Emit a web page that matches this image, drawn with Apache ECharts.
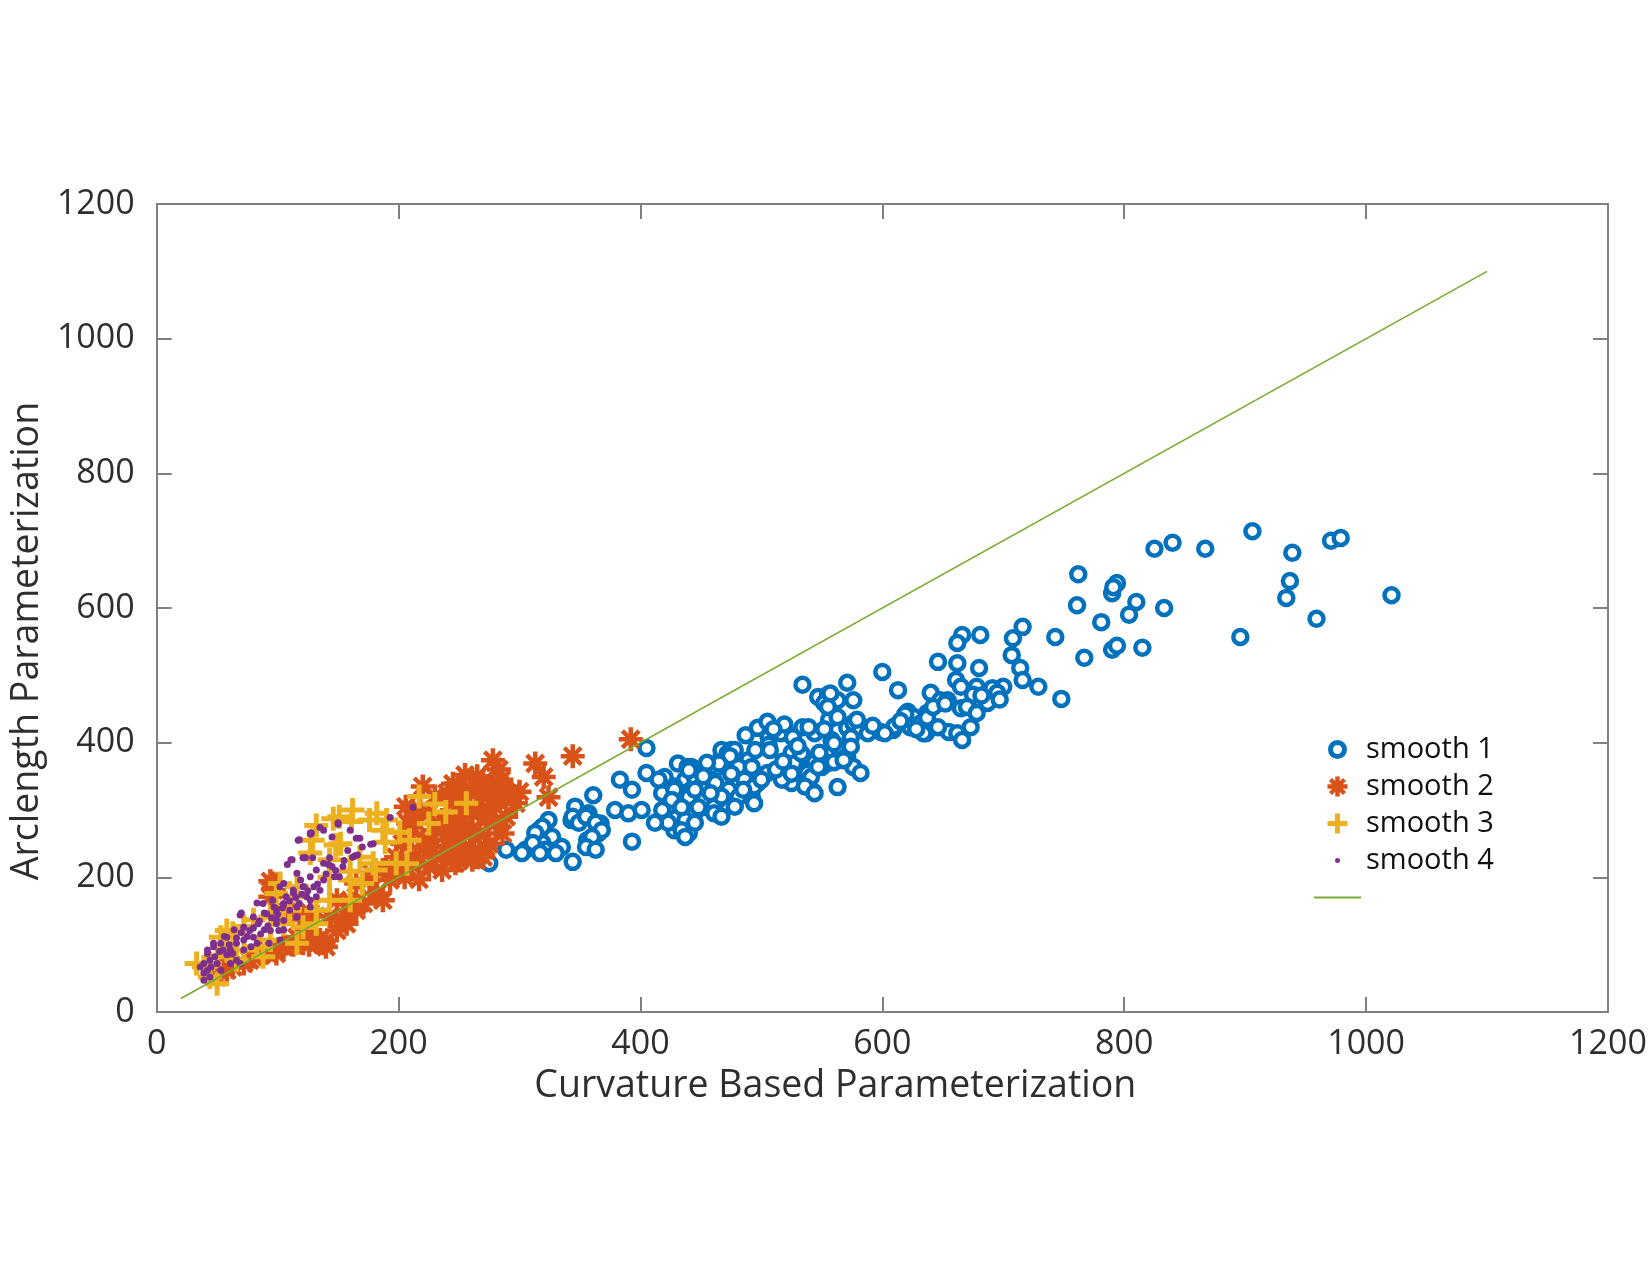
<!DOCTYPE html>
<html>
<head>
<meta charset="utf-8">
<title>Arclength vs Curvature Based Parameterization</title>
<script src="https://cdn.jsdelivr.net/npm/echarts@6/dist/echarts.min.js"></script>
<style>
  html, body { margin: 0; padding: 0; background: #fff; }
  #main { width: 1650px; height: 1275px; }
</style>
</head>
<body>
<div id="main"></div>
<script>
// values: [curvature based, arclength]
var smooth1 = [
  [762, 650], [761, 604], [781, 579], [794, 637], [790, 622], [791, 631], [810, 609], [804, 590], [833, 600],
  [825, 688], [840, 697], [867, 688], [906, 714], [939, 682], [971, 700], [979, 704], [937, 640], [934, 615],
  [959, 584], [1021, 619], [896, 557], [743, 557], [767, 526], [790, 538], [794, 544], [815, 541], [748, 465],
  [716, 572], [708, 555], [707, 530], [714, 511], [716, 493], [729, 483], [681, 560], [666, 560], [662, 548],
  [646, 520], [662, 518], [680, 511], [661, 493], [665, 483], [700, 483], [691, 481], [695, 474], [678, 483],
  [675, 471], [640, 474], [648, 463], [654, 463], [665, 451], [670, 453], [678, 444], [687, 459], [637, 444],
  [634, 429], [636, 414], [655, 416], [662, 414], [666, 404], [673, 423],
  [534, 486], [571, 489], [600, 505], [613, 478], [547, 468], [555, 471], [552, 459], [563, 463], [576, 463],
  [556, 434], [497, 422], [505, 431], [506, 408], [506, 397], [522, 414], [534, 423], [544, 414], [558, 404],
  [563, 394], [571, 422], [576, 429], [582, 419], [588, 414], [574, 408], [599, 416], [609, 419], [621, 446],
  [626, 438], [632, 429], [637, 437], [634, 414], [642, 453], [525, 385], [535, 379], [544, 371], [550, 364],
  [555, 370], [560, 371], [571, 379], [576, 364], [582, 355], [522, 355], [530, 359], [538, 355], [543, 327],
  [563, 334], [525, 340], [517, 345], [505, 355], [497, 340], [492, 319], [494, 310], [467, 379], [475, 389],
  [478, 370], [489, 374], [486, 355], [461, 355], [469, 345], [478, 340], [473, 330], [481, 319], [469, 304],
  [464, 315], [442, 364], [437, 345], [442, 330], [448, 319], [453, 334], [451, 304], [445, 296], [440, 275],
  [440, 266],
  [405, 392], [405, 355], [383, 345], [361, 322], [346, 305], [357, 295], [343, 285], [367, 280], [365, 265],
  [356, 255], [324, 285], [316, 270], [327, 260], [319, 251], [335, 245], [321, 241], [305, 241], [289, 241],
  [393, 253], [379, 300], [390, 295], [401, 300], [393, 330], [420, 349], [431, 369], [439, 364], [418, 325],
  [428, 335], [423, 305], [434, 310], [437, 285], [428, 270], [420, 285], [445, 349], [450, 335], [459, 345],
  [453, 315], [461, 305], [467, 320], [467, 389], [472, 384], [478, 389], [481, 364], [475, 354], [486, 345],
  [492, 364], [461, 295], [467, 290], [478, 305], [494, 335], [516, 414], [527, 369], [533, 384], [525, 354],
  [541, 349], [536, 335], [544, 325], [547, 364], [568, 374], [574, 394], [560, 399], [557, 473], [555, 453],
  [563, 438], [579, 434], [610, 424],
  [344, 290], [349, 281], [355, 290], [363, 281], [368, 270], [360, 260], [355, 245], [363, 241], [344, 223],
  [319, 275], [313, 266], [330, 236], [311, 251], [302, 236], [275, 221], [267, 230], [317, 236], [415, 345],
  [440, 359], [428, 330], [440, 319], [426, 315], [434, 304], [418, 300], [423, 281], [434, 270], [437, 260],
  [412, 281], [445, 330], [448, 304], [445, 281],
  [652, 458], [646, 423], [619, 442], [623, 423], [602, 414], [682, 470], [697, 464], [539, 423], [526, 408],
  [519, 427], [487, 411], [495, 389], [507, 389], [474, 380], [465, 369],
  [455, 370], [462, 340], [485, 330], [500, 345], [512, 360], [518, 372], [530, 395], [548, 385], [452, 350],
  [458, 325], [592, 425], [615, 432], [628, 420], [510, 420], [552, 420]
]

var smooth2 = [
  [392, 405], [344, 380], [278, 374], [283, 360], [313, 369], [320, 349], [324, 319], [300, 327], [293, 325],
  [220, 335], [206, 305], [245, 339], [253, 330], [247, 315], [267, 330], [278, 339], [291, 324], [280, 305],
  [269, 300], [236, 285], [250, 290], [261, 295], [231, 270], [245, 265], [209, 265], [203, 250], [214, 231],
  [225, 216], [236, 211], [267, 265], [275, 250], [286, 265], [253, 241], [261, 226], [247, 221], [193, 196],
  [182, 176], [171, 161], [165, 151], [157, 131], [149, 121], [138, 102], [187, 211], [121, 102], [116, 111],
  [127, 107], [135, 107], [140, 97], [113, 100], [126, 100], [105, 97], [99, 87], [91, 88], [80, 82], [72, 72],
  [63, 67], [58, 62], [56, 72], [50, 52], [96, 191], [94, 171], [105, 146], [154, 136], [162, 161], [165, 191],
  [176, 196], [231, 231], [228, 245], [270, 342], [259, 330], [245, 315], [264, 304], [275, 290], [289, 290],
  [253, 281], [242, 270], [259, 245], [272, 245], [264, 230], [245, 241], [221, 244], [239, 236], [204, 213],
  [217, 197], [178, 205], [187, 166], [156, 142], [109, 150], [77, 77], [86, 87], [94, 194], [97, 181],
  [149, 166], [143, 142], [127, 147], [122, 137], [124, 122],
  [210, 220], [220, 255], [240, 255], [250, 260], [260, 270], [255, 300], [225, 295], [215, 280], [270, 320],
  [280, 320], [265, 350], [255, 352], [285, 345], [230, 320], [240, 325], [218, 300], [208, 280], [198, 230],
  [195, 215], [205, 200], [250, 225], [270, 230], [280, 280], [297, 310], [285, 335]
]

var smooth3 = [
  [162, 300], [132, 277], [146, 287], [151, 290], [129, 255], [148, 248], [187, 270], [201, 267], [198, 221],
  [179, 221], [168, 230], [217, 320], [239, 297], [256, 310], [225, 280], [190, 285], [160, 209], [143, 200],
  [116, 186], [99, 176], [116, 171], [110, 151], [94, 141], [105, 131], [80, 137], [72, 127], [63, 117],
  [58, 97], [50, 82], [44, 72], [39, 67], [33, 72], [44, 52], [50, 42], [83, 97], [88, 82], [94, 107],
  [121, 126], [116, 102], [132, 151], [143, 166], [160, 196], [170, 191], [181, 211], [58, 121], [53, 111],
  [72, 92], [66, 77], [160, 166], [132, 131], [102, 191], [182, 295], [209, 255], [189, 252], [207, 220],
  [230, 309], [161, 283], [152, 250], [176, 285], [127, 236], [143, 226]
]

var smooth4 = [
  [193, 289], [150, 279], [135, 274], [138, 270], [127, 264], [118, 256], [123, 229], [108, 219], [112, 226],
  [129, 229], [138, 221], [142, 219], [132, 211], [154, 216], [151, 201], [165, 258], [166, 233], [162, 230],
  [179, 250], [147, 201], [127, 201], [119, 196], [116, 206], [105, 191], [121, 186], [130, 186], [138, 196],
  [113, 181], [107, 171], [102, 186], [132, 171], [124, 171], [96, 166], [88, 161], [99, 151], [110, 151],
  [105, 161], [118, 161], [127, 156], [116, 141], [91, 146], [80, 141], [84, 131], [69, 144], [99, 131],
  [105, 136], [77, 121], [86, 116], [72, 107], [66, 102], [58, 111], [53, 102], [47, 97], [42, 92], [55, 92],
  [63, 87], [72, 92], [44, 77], [39, 72], [36, 67], [42, 62], [50, 72], [53, 62], [44, 52], [39, 47], [61, 72],
  [66, 77], [83, 102], [93, 102], [94, 121], [80, 111], [101, 121], [102, 107], [69, 72],
  [212, 304], [168, 258], [177, 249], [150, 281], [128, 266], [117, 255], [121, 229], [143, 229], [164, 232],
  [42, 87], [47, 102], [56, 112], [64, 122], [72, 126], [89, 147], [97, 156], [113, 177], [122, 186],
  [145, 216], [89, 122], [99, 137], [105, 122], [116, 156], [127, 166], [135, 181], [111, 226], [122, 229],
  [127, 266], [78, 97], [61, 92], [39, 58], [45, 67], [70, 147], [83, 162],
  [48, 82], [52, 90], [58, 85], [60, 100], [66, 110], [70, 118], [75, 112], [80, 125], [85, 135], [92, 128],
  [95, 140], [100, 145], [104, 155], [110, 165], [115, 170], [120, 175], [125, 180], [133, 190], [140, 205],
  [148, 210], [155, 225], [158, 240], [170, 245], [145, 260], [160, 270]
]

var refLine = [[20, 20], [1100, 1100]]

var blue = '#0072BD'
var orange = '#D95319'
var yellow = '#EDB120'
var purple = '#7E2F8E'
var green = '#77AC30'
var font = 'Open Sans'
var textColor = '#2e2e2e'
var frameColor = '#808080'

var starPath = 'path://M0,10L20,10M10,0L10,20M3,3L17,17M17,3L3,17'
var plusPath = 'path://M0,10L20,10M10,0L10,20'
var linePath = 'path://M0,0L47,0L47,2L0,2Z'
// legend icons kept inside an empty 20x20 box so they keep their own size
var ringPath = 'path://M0,0L0,0M20,20L20,20M3,10A7,7,0,1,1,17,10A7,7,0,1,1,3,10Z'
var dotPath = 'path://M0,0L0,0M20,20L20,20M7.5,10A2.5,2.5,0,1,1,12.5,10A2.5,2.5,0,1,1,7.5,10Z'

var chart = echarts.init(document.getElementById('main'), null, { renderer: 'canvas' })

function frameAxis(position, withLabels) {
  return {
    type: 'value',
    position: position,
    min: 0,
    max: 1200,
    interval: 200,
    axisLine: { show: true, onZero: false, lineStyle: { color: frameColor, width: 2 } },
    axisTick: { show: true, inside: true, length: 15, lineStyle: { color: frameColor, width: 2 } },
    axisLabel: {
      show: withLabels,
      fontSize: 34,
      color: textColor,
      fontFamily: font,
      formatter: function(v) {
        return String(v)
      }
    },
    splitLine: { show: false }
  }
}

var xBottom = frameAxis('bottom', true)
xBottom.name = 'Curvature Based Parameterization'
xBottom.nameLocation = 'middle'
xBottom.nameGap = 55
xBottom.nameTextStyle = { fontSize: 37.5, color: textColor, fontFamily: font, padding: [0, 94, 0, 0] }
xBottom.axisLabel.margin = 15

var yLeft = frameAxis('left', true)
yLeft.name = 'Arclength Parameterization'
yLeft.nameLocation = 'middle'
yLeft.nameGap = 95
yLeft.nameTextStyle = { fontSize: 37.5, color: textColor, fontFamily: font, padding: [0, 66, 0, 0] }
yLeft.axisLabel.margin = 22

var option = {
  backgroundColor: '#fff',
  animation: false,
  grid: { left: 153, right: 42, top: 204, bottom: 263 },
  xAxis: [xBottom, frameAxis('top', false)],
  yAxis: [yLeft, frameAxis('right', false)],
  legend: {
    orient: 'vertical',
    left: 1309,
    top: 730,
    itemWidth: 47,
    itemHeight: 20,
    itemGap: 8,
    selectedMode: false,
    textStyle: { fontSize: 29, color: '#111', fontFamily: font },
    data: [
      { name: 'smooth 1', icon: ringPath, itemStyle: { color: '#fff', borderColor: blue, borderWidth: 5 } },
      { name: 'smooth 2', icon: starPath, itemStyle: { color: orange, borderColor: orange, borderWidth: 4.5 } },
      { name: 'smooth 3', icon: plusPath, itemStyle: { color: yellow, borderColor: yellow, borderWidth: 5 } },
      { name: 'smooth 4', icon: dotPath, itemStyle: { color: purple, borderWidth: 0 } },
      { name: ' ', icon: linePath, itemStyle: { color: green, borderWidth: 0 } }
    ]
  },
  series: [
    {
      name: 'smooth 1',
      type: 'scatter',
      data: smooth1,
      symbol: 'circle',
      symbolSize: 14,
      itemStyle: { color: '#fff', opacity: 1, borderColor: blue, borderWidth: 4.5 }
    },
    {
      name: 'smooth 2',
      type: 'scatter',
      data: smooth2,
      symbol: starPath,
      symbolSize: 24,
      itemStyle: { color: orange, opacity: 1, borderColor: orange, borderWidth: 4.5 }
    },
    {
      name: 'smooth 3',
      type: 'scatter',
      data: smooth3,
      symbol: plusPath,
      symbolSize: 24,
      itemStyle: { color: yellow, opacity: 1, borderColor: yellow, borderWidth: 5 }
    },
    {
      name: 'smooth 4',
      type: 'scatter',
      data: smooth4,
      symbol: 'circle',
      symbolSize: 7,
      itemStyle: { color: purple, opacity: 1 }
    },
    {
      name: ' ',
      type: 'line',
      data: refLine,
      showSymbol: false,
      symbol: 'none',
      lineStyle: { color: green, width: 1.6 },
      itemStyle: { color: green }
    }
  ]
}

option && chart.setOption(option)
</script>
</body>
</html>
